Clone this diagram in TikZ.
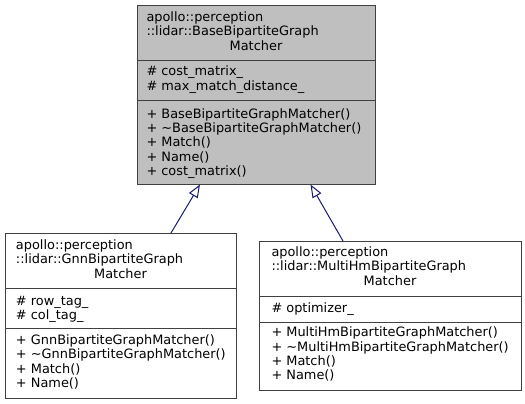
\documentclass[tikz,border=0pt]{standalone}
\usepackage{fontspec}
\setmainfont{DejaVu Sans}
\usetikzlibrary{arrows.meta}
\definecolor{boxline}{HTML}{404040}
\definecolor{boxfill}{HTML}{BFBFBF}
\definecolor{edgecol}{HTML}{191970}
\begin{document}
\begin{tikzpicture}[x=1pt,y=-1pt,
  cls/.style={draw=boxline,line width=1pt,minimum width=#1,inner sep=0pt,outer sep=0pt,anchor=north west},
  txt/.style={anchor=base west,inner sep=0pt,outer sep=0pt,font=\fontsize{12.9}{14.3}\selectfont},
  ctxt/.style={anchor=base,inner sep=0pt,outer sep=0pt,font=\fontsize{12.9}{14.3}\selectfont},
  sep/.style={draw=boxline,line width=1pt},
  inh/.style={draw=edgecol,line width=1pt,-{Triangle[open,length=13pt,width=10pt,fill=white]}}
]
\useasboundingbox (0,0) rectangle (525,404);
% top box
\node[cls=238pt,minimum height=178pt,fill=boxfill] (base) at (137,6) {};
\draw[sep] (137,61) -- (375,61);
\draw[sep] (137,100) -- (375,100);
\node[txt] (b1) at (146.5,21.5) {apollo::perception};
\node[txt] (b2) at (146.5,35.8) {::lidar::BaseBipartiteGraph};
\node[ctxt] (b3) at (256,50.1) {Matcher};
\node[txt] (b4) at (146.5,76) {\# cost\_matrix\_};
\node[txt] (b5) at (146.5,90.5) {\# max\_match\_distance\_};
\node[txt] (b6) at (146.5,118.3) {+ BaseBipartiteGraphMatcher()};
\node[txt] (b7) at (146.5,132.5) {+ \char"7E BaseBipartiteGraphMatcher()};
\node[txt] (b8) at (146.5,146.8) {+ Match()};
\node[txt] (b9) at (146.5,161) {+ Name()};
\node[txt] (b10) at (146.5,175.3) {+ cost\_matrix()};
% left box
\node[cls=231pt,minimum height=165pt,fill=white] (gnn) at (5,233) {};
\draw[sep] (5,288) -- (236,288);
\draw[sep] (5,328) -- (236,328);
\node[txt] (g1) at (16,249.3) {apollo::perception};
\node[txt] (g2) at (16,263.8) {::lidar::GnnBipartiteGraph};
\node[ctxt] (g3) at (120.5,278.2) {Matcher};
\node[txt] (g4) at (16,305) {\# row\_tag\_};
\node[txt] (g5) at (16,319.3) {\# col\_tag\_};
\node[txt] (g6) at (16,344.3) {+ GnnBipartiteGraphMatcher()};
\node[txt] (g7) at (16,358.5) {+ \char"7E GnnBipartiteGraphMatcher()};
\node[txt] (g8) at (16,373) {+ Match()};
\node[txt] (g9) at (16,387.3) {+ Name()};
% right box
\node[cls=262pt,minimum height=149pt,fill=white] (multi) at (259,241) {};
\draw[sep] (259,296) -- (521,296);
\draw[sep] (259,322) -- (521,322);
\node[txt] (m1) at (271.5,256.3) {apollo::perception};
\node[txt] (m2) at (271.5,270.6) {::lidar::MultiHmBipartiteGraph};
\node[ctxt] (m3) at (390,285) {Matcher};
\node[txt] (m4) at (271.5,312.7) {\# optimizer\_};
\node[txt] (m5) at (271.5,336.7) {+ MultiHmBipartiteGraphMatcher()};
\node[txt] (m6) at (271.5,351) {+ \char"7E MultiHmBipartiteGraphMatcher()};
\node[txt] (m7) at (271.5,365.5) {+ Match()};
\node[txt] (m8) at (271.5,379.5) {+ Name()};
% edges
\coordinate (gt) at (171,233);
\coordinate (gh) at (200,184.5);
\coordinate (mt) at (343,241);
\coordinate (mh) at (310.5,184.5);
\draw[inh] (gt) -- (gh);
\draw[inh] (mt) -- (mh);
\end{tikzpicture}
\end{document}
